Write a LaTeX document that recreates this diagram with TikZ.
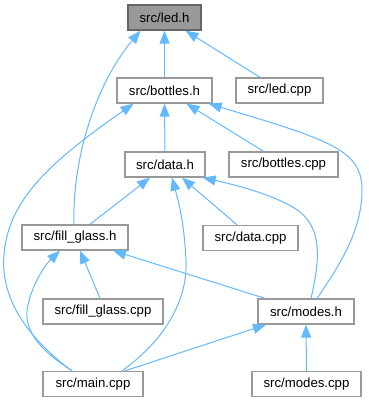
\documentclass[tikz,border=0pt]{standalone}
\usepackage{fontspec}
\setmainfont{Liberation Sans}
\usetikzlibrary{arrows.meta}

\definecolor{edgeblue}{HTML}{63B8FF}
\definecolor{boxgray}{HTML}{999999}
\definecolor{topgray}{HTML}{666666}

\tikzstyle{file}=[rectangle, draw=boxgray, line width=1.3pt, fill=white, minimum height=25pt, inner sep=0pt, font=\fontsize{13.2}{15}\selectfont]
\tikzstyle{cur}=[file, fill=boxgray, draw=topgray]
\tikzstyle{inc}=[draw=edgeblue, line width=1pt, -{Triangle[length=13pt,width=10pt]}]

\begin{document}
\begin{tikzpicture}[x=1pt,y=-1pt]
        \useasboundingbox (0,0) rectangle (368,403);
        \draw (164.5,17.5) node[cur, minimum width=73pt](ledh){src/led.h};
        \draw (164.5,90.5) node[file, minimum width=95pt](bottlesh){src/bottles.h};
        \draw (279.5,90.5) node[file, minimum width=87pt](ledcpp){src/led.cpp};
        \draw (165,164.5) node[file, minimum width=80pt](datah){src/data.h};
        \draw (283.5,164.5) node[file, minimum width=109pt](bottlescpp){src/bottles.cpp};
        \draw (75,237.5) node[file, minimum width=106pt](fillh){src/fill\_glass.h};
        \draw (250.5,238) node[file, minimum width=95pt](datacpp){src/data.cpp};
        \draw (103,311.5) node[file, minimum width=120pt](fillcpp){src/fill\_glass.cpp};
        \draw (306,311.5) node[file, minimum width=96pt](modesh){src/modes.h};
        \draw (93,384) node[file, minimum width=100pt](maincpp){src/main.cpp};
        \draw (306.5,384) node[file, minimum width=109pt](modescpp){src/modes.cpp};
        %
        \path
            (bottlesh.north)                edge[inc]   (ledh.south)
            ([xshift=-19.5]ledcpp.north)    edge[inc]   ([xshift=21]ledh.south)
            (datah.north)                   edge[inc]   (bottlesh.south)
            ([xshift=-20]bottlescpp.north)  edge[inc]   ([xshift=22]bottlesh.south)
            ([xshift=15]fillh.north)        edge[inc]   ([xshift=-15]datah.south)
            ([xshift=-13.5]datacpp.north)   edge[inc]   ([xshift=17]datah.south)
            ([xshift=-3]fillcpp.north)      edge[inc]   ([xshift=5]fillh.south)
            ([xshift=-41]modesh.north)      edge[inc]   ([xshift=38]fillh.south)
            ([xshift=32]maincpp.north)      edge[inc]   ([xshift=-40]modesh.south)
            (modescpp.north)                edge[inc]   (modesh.south)
        ;
        % long curved includes
        \draw[inc] ([xshift=-1]fillh.north) .. controls (72,160) and (95,85) .. ([xshift=-24]ledh.south);
        \draw[inc] ([xshift=-21]maincpp.north) .. controls (30,340) and (0,300) .. (4,255)
            .. controls (8,200) and (50,162) .. ([xshift=-31]bottlesh.south);
        \draw[inc] ([xshift=-21]maincpp.north) .. controls (40,350) and (22,330) .. (28,305)
            .. controls (32,285) and (45,265) .. ([xshift=-15]fillh.south);
        \draw[inc] ([xshift=29]maincpp.north) .. controls (165,340) and (188,300) .. (186,260)
            .. controls (184,220) and (178,200) .. ([xshift=7]datah.south);
        \draw[inc] ([xshift=5]modesh.north) .. controls (320,260) and (322,230) .. (300,212)
            .. controls (285,200) and (250,188) .. ([xshift=-3]datah.south east);
        \draw[inc] ([xshift=11]modesh.north) .. controls (340,265) and (362,230) .. (362,190)
            .. controls (362,150) and (330,140) .. ([xshift=-4]bottlesh.south east);
      \end{tikzpicture}
\end{document}
